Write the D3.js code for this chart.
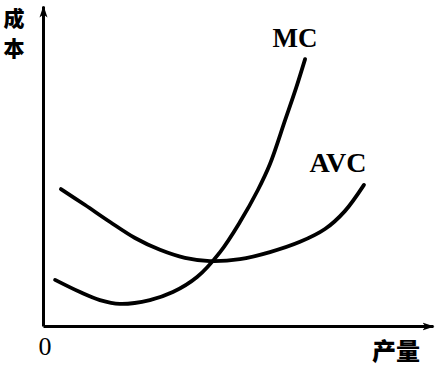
<!DOCTYPE html>
<html><head><meta charset="utf-8">
<script src="https://cdn.jsdelivr.net/npm/d3@7"></script>
<style>body{margin:0;background:#fff}svg{display:block}</style>
</head><body>
<script>
// Data (quantity, cost) in abstract units
const mcQ   = [0.31,0.95,1.46,1.97,2.74,3.33,3.95,4.54,5.05,5.51,5.82,6.21,6.49,6.72];
const mcC   = [1.44,1.06,0.81,0.69,0.81,1.06,1.53,2.31,3.25,4.25,5.06,6.44,7.44,8.34];
const avcQ  = [0.46,1.08,1.72,2.36,3.00,3.64,4.28,5.05,5.82,6.59,7.23,7.74,8.23];
const avcC  = [4.28,3.78,3.25,2.75,2.38,2.13,2.03,2.09,2.31,2.63,3.03,3.59,4.41];
const seriesLabels = ["MC","AVC"];
const axisLabels = {y:["成","本"], x:"产量", origin:"0"};

const W=442,H=368;
const svg=d3.select("body").append("svg").attr("width",W).attr("height",H);
const x=d3.scaleLinear().domain([0,10]).range([43,433]);
const y=d3.scaleLinear().domain([0,10]).range([326,6]);

const defs=svg.append("defs");
defs.append("marker").attr("id","arr").attr("viewBox","0 0 12 10").attr("refX",11).attr("refY",5)
  .attr("markerWidth",12).attr("markerHeight",10).attr("markerUnits","userSpaceOnUse").attr("orient","auto")
  .append("path").attr("d","M0,1 L12,5 L0,9 L3,5 Z").attr("fill","#000");

const gx=svg.append("g").attr("transform",`translate(0,${y(0)})`)
  .call(d3.axisBottom(x).tickValues([]).tickSizeOuter(0));
gx.select(".domain").attr("stroke","#000").attr("stroke-width",3).attr("marker-end","url(#arr)");
const gy=svg.append("g").attr("transform",`translate(${x(0)},0)`)
  .call(d3.axisLeft(y).tickValues([]).tickSizeOuter(0));
gy.select(".domain").attr("stroke","#000").attr("stroke-width",3).attr("marker-end","url(#arr)");

const line=d3.line().x(d=>x(d[0])).y(d=>y(d[1])).curve(d3.curveCatmullRom.alpha(0.5));
const mc=mcQ.map((q,i)=>[q,mcC[i]]);
const avc=avcQ.map((q,i)=>[q,avcC[i]]);
[mc,avc].forEach(s=>svg.append("path").attr("d",line(s)).attr("fill","none")
  .attr("stroke","#000").attr("stroke-width",3.8).attr("stroke-linecap","round"));

const serif="'Liberation Serif','DejaVu Serif',serif";
const cjk="'Noto Sans CJK SC','Noto Sans CJK JP',sans-serif";
svg.append("text").attr("x",295).attr("y",47).attr("text-anchor","middle")
  .attr("font-family",serif).attr("font-weight","bold").attr("font-size",27).text(seriesLabels[0]);
svg.append("text").attr("x",338).attr("y",172).attr("text-anchor","middle")
  .attr("font-family",serif).attr("font-weight","bold").attr("font-size",28).text(seriesLabels[1]);

axisLabels.y.forEach((c,i)=>svg.append("text").attr("x",14).attr("y",i===0?26:56)
  .attr("text-anchor","middle").attr("font-family",cjk).attr("font-weight",900)
  .attr("font-size",21).text(c));
svg.append("text").attr("x",396).attr("y",360).attr("text-anchor","middle")
  .attr("font-family",cjk).attr("font-weight",900).attr("font-size",24).text(axisLabels.x);
svg.append("text").attr("x",45).attr("y",355).attr("text-anchor","middle")
  .attr("font-family",serif).attr("font-size",26).text(axisLabels.origin);
</script>
</body></html>
